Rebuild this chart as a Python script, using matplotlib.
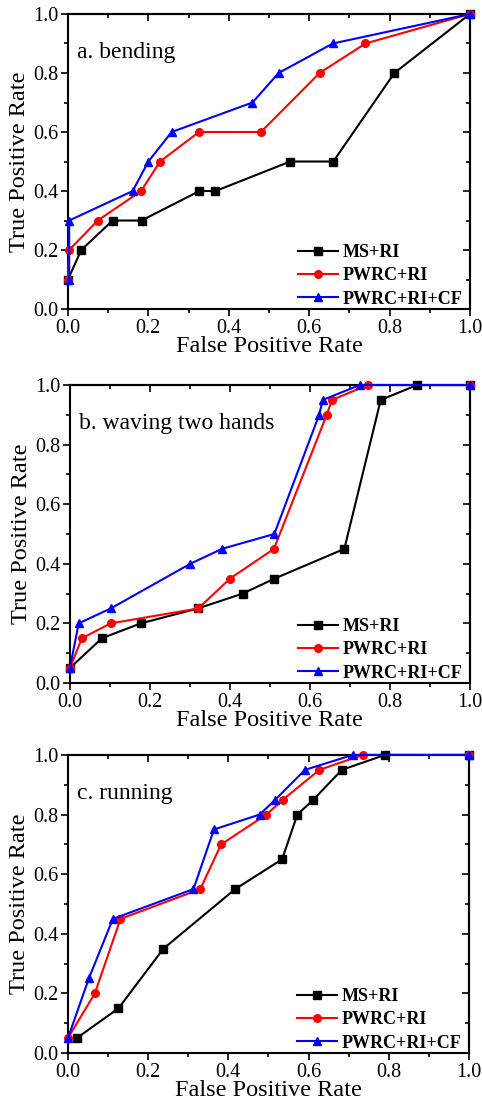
import numpy as np
import matplotlib
matplotlib.use('Agg')
import matplotlib.pyplot as plt
from matplotlib.ticker import MultipleLocator

plt.rcParams['font.family'] = ['Liberation Serif', 'DejaVu Serif']
plt.rcParams['mathtext.fontset'] = 'stix'

labels = ['MS+RI', 'PWRC+RI', 'PWRC+RI+CF']
titles = ['a. bending', 'b. waving two hands', 'c. running']

# panel a
a_ms_x = [0.0, 0.033, 0.111, 0.183, 0.327, 0.367, 0.553, 0.66, 0.812, 1.0]
a_ms_y = [0.1, 0.2, 0.3, 0.3, 0.4, 0.4, 0.5, 0.5, 0.8, 1.0]
a_pw_x = [0.0, 0.003, 0.074, 0.182, 0.229, 0.326, 0.48, 0.626, 0.74, 1.0]
a_pw_y = [0.1, 0.2, 0.3, 0.4, 0.5, 0.6, 0.6, 0.8, 0.9, 1.0]
a_cf_x = [0.003, 0.003, 0.161, 0.2, 0.258, 0.459, 0.524, 0.659, 1.0]
a_cf_y = [0.1, 0.3, 0.4, 0.5, 0.6, 0.7, 0.8, 0.9, 1.0]

# panel b
b_ms_x = [0.0, 0.08, 0.177, 0.32, 0.432, 0.511, 0.686, 0.777, 0.868, 1.0]
b_ms_y = [0.05, 0.15, 0.2, 0.25, 0.3, 0.35, 0.45, 0.95, 1.0, 1.0]
b_pw_x = [0.0, 0.03, 0.102, 0.321, 0.4, 0.51, 0.642, 0.655, 0.745, 1.0]
b_pw_y = [0.05, 0.15, 0.2, 0.25, 0.35, 0.45, 0.9, 0.95, 1.0, 1.0]
b_cf_x = [0.0, 0.022, 0.102, 0.301, 0.38, 0.511, 0.623, 0.632, 0.725, 1.0]
b_cf_y = [0.05, 0.2, 0.25, 0.4, 0.45, 0.5, 0.9, 0.95, 1.0, 1.0]

# panel c
c_ms_x = [0.022, 0.126, 0.238, 0.417, 0.534, 0.572, 0.612, 0.683, 0.79, 1.0]
c_ms_y = [0.05, 0.15, 0.35, 0.55, 0.65, 0.8, 0.85, 0.95, 1.0, 1.0]
c_pw_x = [0.0, 0.067, 0.131, 0.33, 0.382, 0.495, 0.536, 0.627, 0.735, 1.0]
c_pw_y = [0.05, 0.2, 0.45, 0.55, 0.7, 0.8, 0.85, 0.95, 1.0, 1.0]
c_cf_x = [0.0, 0.052, 0.112, 0.313, 0.364, 0.478, 0.517, 0.591, 0.71, 1.0]
c_cf_y = [0.05, 0.25, 0.45, 0.55, 0.75, 0.8, 0.85, 0.95, 1.0, 1.0]

panels = [
    [(a_ms_x, a_ms_y), (a_pw_x, a_pw_y), (a_cf_x, a_cf_y)],
    [(b_ms_x, b_ms_y), (b_pw_x, b_pw_y), (b_cf_x, b_cf_y)],
    [(c_ms_x, c_ms_y), (c_pw_x, c_pw_y), (c_cf_x, c_cf_y)],
]
colors = ['black', 'red', 'blue']
markers = ['s', 'o', '^']

fig = plt.figure(figsize=(4.82, 11.01), dpi=100)
boxes = [(0.141, 0.7193, 0.834, 0.268),
         (0.145, 0.3797, 0.830, 0.2706),
         (0.141, 0.0436, 0.832, 0.2707)]

for i in range(3):
    ax = fig.add_axes(boxes[i])
    for j in range(3):
        x, y = panels[i][j]
        ax.plot(x, y, color=colors[j], marker=markers[j], markersize=5.5,
                lw=1.5, label=labels[j], clip_on=False, zorder=3 + j)
    ax.set_xlim(0, 1)
    ax.set_ylim(0, 1)
    ax.xaxis.set_major_locator(MultipleLocator(0.2))
    ax.yaxis.set_major_locator(MultipleLocator(0.2))
    ax.xaxis.set_minor_locator(MultipleLocator(0.1))
    ax.yaxis.set_minor_locator(MultipleLocator(0.1))
    ax.tick_params(which='both', direction='out', labelsize=14.5, width=1.2, pad=2)
    ax.tick_params(which='major', length=5)
    ax.tick_params(which='minor', length=3)
    # mirrored ticks inside on top / right
    sx = ax.secondary_xaxis('top')
    sy = ax.secondary_yaxis('right')
    for s in (sx, sy):
        s.tick_params(which='both', direction='in', width=1.2, labelsize=0)
        s.tick_params(which='major', length=5)
        s.tick_params(which='minor', length=3)
    sx.xaxis.set_major_locator(MultipleLocator(0.2))
    sx.xaxis.set_minor_locator(MultipleLocator(0.1))
    sy.yaxis.set_major_locator(MultipleLocator(0.2))
    sy.yaxis.set_minor_locator(MultipleLocator(0.1))
    sx.set_xticklabels([])
    sy.set_yticklabels([])
    for s in ax.spines.values():
        s.set_linewidth(1.5)
    sx.spines['top'].set_linewidth(1.5)
    sy.spines['right'].set_linewidth(1.5)
    ax.set_xlabel('False Positive Rate', fontsize=17.5, labelpad=-1)
    ax.set_ylabel('True Positive Rate', fontsize=17.5, labelpad=2)
    ax.text(0.023, 0.87, titles[i], transform=ax.transAxes, fontsize=17,
            va='center', ha='left')
    ax.legend(loc='lower right', bbox_to_anchor=(1.0, -0.02), frameon=False,
              prop={'weight': 'bold', 'size': 13},
              handlelength=2.2, handletextpad=0.3, labelspacing=0.35,
              borderaxespad=0.0)

fig.savefig('out.png', dpi=100)
